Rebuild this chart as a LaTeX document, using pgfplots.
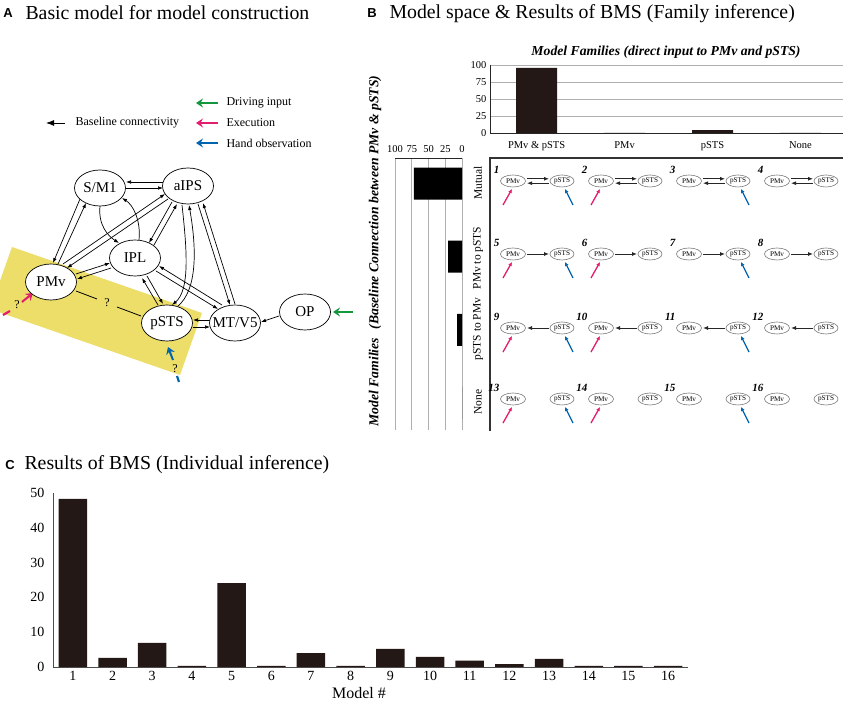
\documentclass[border=0pt]{standalone}
\usepackage{fontspec}
\setmainfont{Liberation Serif}
\newfontfamily\lsans{Liberation Sans}
\usepackage{pgfplots}
\pgfplotsset{compat=1.18}
\usetikzlibrary{arrows.meta}
\definecolor{barc}{RGB}{35,24,21}
\definecolor{ylw}{RGB}{236,222,104}
\definecolor{grn}{RGB}{20,150,60}
\definecolor{pnk}{RGB}{228,30,110}
\definecolor{blu}{RGB}{0,100,175}
\definecolor{gridc}{RGB}{175,175,175}
\definecolor{ellc}{RGB}{120,120,120}
\newcommand\fs[1]{\fontsize{#1}{#1}\selectfont}
\tikzset{
 arr/.style={-{Latex[length=5pt,width=3.6pt]}, line width=0.7pt},
 marr/.style={-{Latex[length=5pt,width=4pt]}, line width=0.9pt, black!85},
 carr/.style={line width=2pt, -{Stealth[length=7pt,width=9pt,inset=2.5pt]}},
}
\begin{document}
\begin{tikzpicture}
\useasboundingbox (0,0) rectangle (843pt,704pt);
\fill[white] (0,0) rectangle (843pt,704pt);
\begin{scope}[x=1pt,y=-1pt,yshift=704pt]
% ---------- titles
\node[font=\lsans\bfseries\fs{13}] at (8,13) {A};
\node[anchor=west,font=\fs{19.8}] at (22,13) {Basic model for model construction};
\node[font=\lsans\bfseries\fs{13}] at (372,13) {B};
\node[anchor=west,font=\fs{19.8}] at (386,14) {Model space \& Results of BMS (Family inference)};
\node[font=\lsans\bfseries\fs{13}] at (10,465) {C};
\node[anchor=west,font=\fs{19.8}] at (21,465) {Results of BMS (Individual inference)};
% ---------- panel A legend
\draw[line width=0.9pt,-{Latex[length=8pt,width=6pt]}] (65,123) -- (46,123);
\node[anchor=west,font=\fs{12}] at (72,123) {Baseline connectivity};
\draw[carr,grn] (218,103) -- (196,103);
\draw[carr,pnk] (218,123) -- (196,123);
\draw[carr,blu] (218,143) -- (196,143);
\node[anchor=west,font=\fs{12}] at (223,103) {Driving input};
\node[anchor=west,font=\fs{12}] at (223,123) {Execution};
\node[anchor=west,font=\fs{12}] at (223,143) {Hand observation};
% ---------- yellow band
\begin{scope}
\clip (0,0) rectangle (843,704);
\fill[ylw] (12,247) -- (202,313) -- (180,375) -- (-10,309) -- cycle;
\end{scope}
% ---------- edges
\draw[arr] (163,182) -- (126,182);
\draw[arr] (126,188) -- (163,188);
\draw[arr] (80,199) -- (53,263);
\draw[arr] (58,264) -- (86,203);
\draw[arr] (63,264) -- (165,194);
\draw[arr] (168,199) -- (67,268);
\draw[arr] (76,274) -- (110,263);
\draw[arr] (111,268) -- (77,279);
\draw[arr] (172,202) -- (149,243);
\draw[arr] (154,245) -- (177,204);
\draw[arr] (100,206) .. controls (98,225) and (108,236) .. (119,243);
\draw[arr] (139,240) .. controls (141,220) and (133,205) .. (122,198);
\draw[arr] (182,205) .. controls (187,250) and (190,290) .. (172,305);
\draw[arr] (178,306) .. controls (197,290) and (197,250) .. (189,205);
\draw[arr] (198,204) -- (230,305);
\draw[arr] (235,304) -- (203,203);
\draw[arr] (158,305) -- (142,278);
\draw[arr] (147,276) -- (163,304);
\draw[arr] (222,305) -- (159,266);
\draw[arr] (156,271) -- (218,309);
\draw[arr] (210,320) -- (193,320);
\draw[arr] (193,327) -- (210,327);
\draw[arr] (279,316) -- (261,322);
\draw[carr,grn] (353,312) -- (333,312);
\draw[line width=0.8pt] (76,291) -- (97,299);
\draw[line width=0.8pt] (117,307) -- (141,316);
\node[font=\fs{12}] at (107,303) {?};
% pink / blue inputs
\draw[pnk,line width=2.2pt] (3,315) -- (10,311);
\node[font=\fs{12}] at (17,305) {?};
\draw[carr,pnk] (22,302) -- (33,293);
\draw[blu,line width=2.2pt] (177,376) -- (179,382);
\node[font=\fs{12}] at (175,369) {?};
\draw[carr,blu] (173,360) -- (168,347);
% ---------- nodes
\foreach \xx/\yy/\txt in {100/188/S\slash M1,188/186/aIPS,135/258/IPL,51/282/PMv,167/323/pSTS,235/323/MT\slash V5,305/312/OP}{
 \draw[line width=0.7pt,fill=white] (\xx,\yy) ellipse [x radius=25.5pt, y radius=18pt];
 \node[font=\fs{15}] at (\xx,\yy) {\txt};
}
% ---------- panel B annotations
\node[font=\fs{13.7}\bfseries\itshape] at (666,52) {Model Families (direct input to PMv and pSTS)};
\node[rotate=90,font=\fs{13.7}\bfseries\itshape] at (375,251) {Model Families\hspace{5pt} (Baseline Connection between PMv \& pSTS)};
\draw[line width=1.4pt,black!80] (845,158) -- (490,158) -- (490,431);
\node[rotate=90,font=\fs{11.5}] at (478,183) {Mutual};
\node[rotate=90,font=\fs{11.5}] at (478,258) {PMv to pSTS};
\node[rotate=90,font=\fs{11.5}] at (478,329) {pSTS to PMv};
\node[rotate=90,font=\fs{11.5}] at (478,402) {None};
% model cells
\foreach \rr/\yy in {0/181,1/254,2/328,3/399}{
 \foreach \cc in {0,1,2,3}{
  \pgfmathsetmacro\px{513+88*\cc}
  \pgfmathsetmacro\sx{\px+49}
  \pgfmathtruncatemacro\num{\rr*4+\cc+1}
  \draw[ellc,line width=0.6pt] (\px,\yy) ellipse [x radius=12.5pt, y radius=6pt];
  \draw[ellc,line width=0.6pt] (\sx,\yy) ellipse [x radius=12pt, y radius=6pt];
  \node[font=\fs{7.2}] at (\px,\yy) {PMv};
  \node[font=\fs{7.2}] at (\sx,\yy) {pSTS};
  \node[anchor=east,font=\fs{11}\bfseries\itshape] at (\px-10,\yy-11) {\num};
  \ifnum\rr=0
   \draw[marr] (\px+14,\yy-2.2) -- (\sx-13,\yy-2.2);
   \draw[marr] (\sx-13,\yy+2.2) -- (\px+14,\yy+2.2);
  \fi
  \ifnum\rr=1 \draw[marr] (\px+14,\yy) -- (\sx-13,\yy); \fi
  \ifnum\rr=2 \draw[marr] (\sx-13,\yy) -- (\px+14,\yy); \fi
  \ifnum\cc<2
   \draw[pnk,line width=1.3pt,-{Latex[length=4pt,width=4pt]}] (\px-10,\yy+24) -- (\px-1,\yy+8);
  \fi
  \ifodd\cc\else
   \draw[blu,line width=1.3pt,-{Latex[length=4pt,width=4pt]}] (\sx+11,\yy+24) -- (\sx+3,\yy+8);
  \fi
 }
}
\node[font=\fs{16}] at (359,693) {Model \#};
\end{scope}
% ---------- top bar chart (panel B)
\begin{axis}[at={(490pt,571pt)}, anchor=south west, scale only axis,
 width=354.5pt, height=68pt, ybar, bar width=41pt, enlargelimits=false,
 xmin=-0.53, xmax=3.5, ymin=0, ymax=100,
 xtick={0,1,2,3}, xticklabels={PMv \& pSTS, PMv, pSTS, None},
 ytick={0,25,50,75,100}, ymajorgrids, grid style={gridc,line width=0.6pt},
 axis x line=bottom, axis y line=left, axis line style={-,black!85,line width=0.8pt},
 major tick length=0pt, tick label style={font=\fs{10.5}},
 xticklabel style={yshift=-5pt},
 /pgf/number format/assume math mode=true]
\addplot[fill=barc,draw=none] coordinates {(0,95.6) (1,0) (2,4.4) (3,0)};
\end{axis}
% ---------- left bar chart (panel B)
\begin{axis}[at={(395pt,546pt)}, anchor=north west, scale only axis,
 width=67pt, height=272pt, xbar, bar width=32pt, enlargelimits=false,
 x dir=reverse, y dir=reverse, xmin=0, xmax=100, ymin=-0.35, ymax=3.37,
 xtick={0,25,50,75,100}, ytick=\empty, xmajorgrids, grid style={gridc,line width=0.6pt},
 axis x line=top, axis y line=none, axis line style={-,black!85,line width=0.8pt},
 major tick length=0pt, tick label style={font=\fs{10.5}},
 xticklabel style={yshift=2pt},
 /pgf/number format/assume math mode=true]
\addplot[fill=black,draw=none] coordinates {(72,0) (20.6,1) (7.4,2) (0,3)};
\end{axis}
% ---------- panel C
\begin{axis}[at={(53pt,37pt)}, anchor=south west, scale only axis,
 width=635pt, height=174pt, ybar, bar width=28.5pt, enlargelimits=false,
 xmin=0.5, xmax=16.5, ymin=0, ymax=50,
 xtick={1,...,16}, ytick={0,10,20,30,40,50},
 axis x line=bottom, axis y line=left, axis line style={-,black!70,line width=0.8pt},
 major tick length=0pt, tick label style={font=\fs{14}},
 yticklabel style={xshift=-5pt}, xticklabel style={yshift=-1pt},
 /pgf/number format/assume math mode=true]
\addplot[fill=barc,draw=none] coordinates {(1,48.3) (2,2.6) (3,6.9) (4,0.3) (5,24.1) (6,0.3) (7,4.0) (8,0.3) (9,5.2) (10,2.9) (11,1.8) (12,0.8) (13,2.3) (14,0.3) (15,0.35) (16,0.3)};
\end{axis}
\end{tikzpicture}
\end{document}
